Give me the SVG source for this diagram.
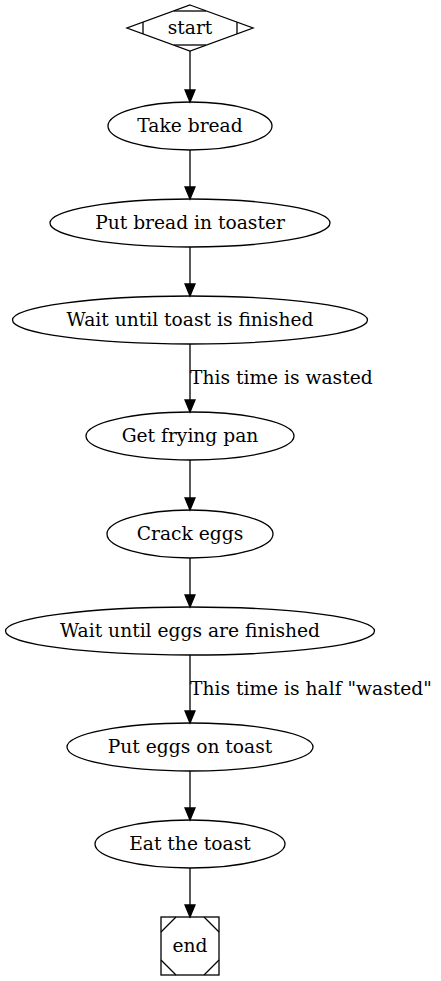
<svg xmlns="http://www.w3.org/2000/svg" width="441" height="981" viewBox="0 0 441 981">
<style>
.n{fill:none;stroke:#000;stroke-width:1.3}
.t{font-family:"DejaVu Serif",serif;font-size:18.67px;text-anchor:middle;fill:#000}
.l{font-family:"DejaVu Serif",serif;font-size:18.67px;fill:#000}
.e{stroke:#000;stroke-width:1.3;fill:none}
.a{fill:#000;stroke:#000;stroke-width:1.3}
</style>
<rect width="441" height="981" fill="#fff"/>
<g id="edges">
<line class="e" x1="190" y1="51" x2="190" y2="90"/><polygon class="a" points="185,90 195,90 190,102"/>
<line class="e" x1="190" y1="150" x2="190" y2="187"/><polygon class="a" points="185,187 195,187 190,199"/>
<line class="e" x1="190" y1="247" x2="190" y2="284"/><polygon class="a" points="185,284 195,284 190,296"/>
<line class="e" x1="190" y1="344" x2="190" y2="400"/><polygon class="a" points="185,400 195,400 190,412"/>
<line class="e" x1="190" y1="460" x2="190" y2="498"/><polygon class="a" points="185,498 195,498 190,510"/>
<line class="e" x1="190" y1="558" x2="190" y2="595"/><polygon class="a" points="185,595 195,595 190,607"/>
<line class="e" x1="190" y1="655" x2="190" y2="711"/><polygon class="a" points="185,711 195,711 190,723"/>
<line class="e" x1="190" y1="771" x2="190" y2="808"/><polygon class="a" points="185,808 195,808 190,820"/>
<line class="e" x1="190" y1="868" x2="190" y2="905"/><polygon class="a" points="185,905 195,905 190,917"/>
<text class="l" x="190" y="384">This time is wasted</text>
<text class="l" x="190" y="695">This time is half "wasted"</text>
</g>
<g id="start">
<polygon class="n" points="190,5 253,28 190,51 127,28"/>
<line class="n" x1="174" y1="11" x2="206" y2="11"/>
<line class="n" x1="174" y1="45" x2="206" y2="45"/>
<line class="n" x1="143" y1="22" x2="143" y2="34"/>
<line class="n" x1="237" y1="22" x2="237" y2="34"/>
<text class="t" x="190" y="34">start</text>
</g>
<g id="take"><ellipse class="n" cx="190" cy="126" rx="82" ry="24"/><text class="t" x="190" y="132">Take bread</text></g>
<g id="put"><ellipse class="n" cx="190" cy="223" rx="140" ry="24"/><text class="t" x="190" y="229">Put bread in toaster</text></g>
<g id="wait1"><ellipse class="n" cx="190" cy="320" rx="177.5" ry="24"/><text class="t" x="190" y="326">Wait until toast is finished</text></g>
<g id="pan"><ellipse class="n" cx="190" cy="436" rx="104" ry="24"/><text class="t" x="190" y="442">Get frying pan</text></g>
<g id="crack"><ellipse class="n" cx="190" cy="534" rx="83" ry="24"/><text class="t" x="190" y="540">Crack eggs</text></g>
<g id="wait2"><ellipse class="n" cx="190" cy="631" rx="184.5" ry="24"/><text class="t" x="190" y="637">Wait until eggs are finished</text></g>
<g id="puteggs"><ellipse class="n" cx="190" cy="747" rx="123" ry="24"/><text class="t" x="190" y="753">Put eggs on toast</text></g>
<g id="eat"><ellipse class="n" cx="190" cy="844" rx="95" ry="24"/><text class="t" x="190" y="850">Eat the toast</text></g>
<g id="end">
<rect class="n" x="161" y="917" width="58" height="58"/>
<line class="n" x1="161" y1="932" x2="176" y2="917"/>
<line class="n" x1="204" y1="917" x2="219" y2="932"/>
<line class="n" x1="161" y1="960" x2="176" y2="975"/>
<line class="n" x1="204" y1="975" x2="219" y2="960"/>
<text class="t" x="190" y="952">end</text>
</g>
</svg>
